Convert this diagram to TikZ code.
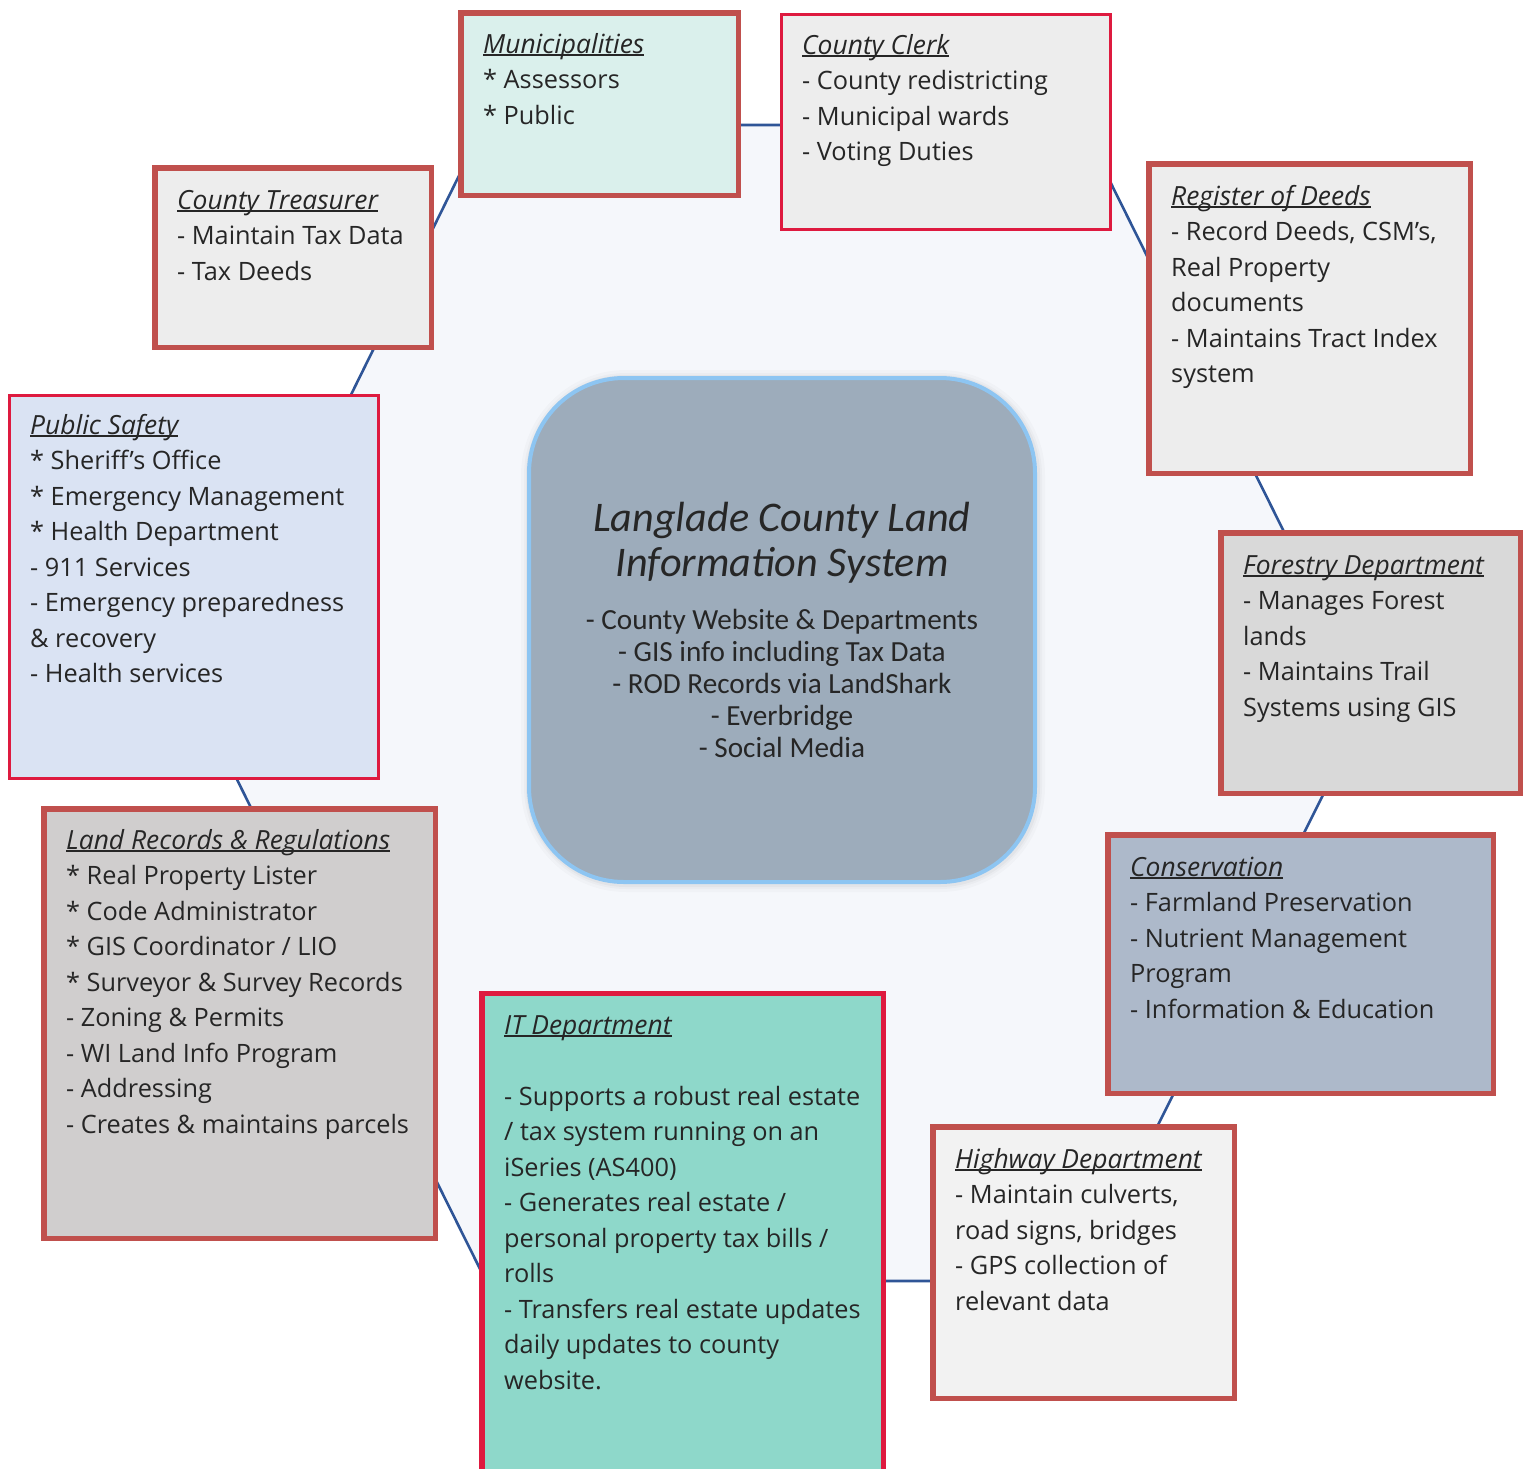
\documentclass[tikz,border=0pt]{standalone}
\usepackage{fontspec}
\setmainfont{Open Sans}
\newfontfamily\corefont{Carlito}

\definecolor{ink}{HTML}{262626}
\definecolor{rimred}{HTML}{C0504D}
\definecolor{rimcrimson}{HTML}{DE1A3F}
\definecolor{linkblue}{HTML}{2F5597}
\definecolor{hexfill}{HTML}{F5F7FB}
\definecolor{corefill}{HTML}{9DACBB}
\definecolor{coreblue}{HTML}{8DC5F2}
\definecolor{munfill}{HTML}{DAF0EC}
\definecolor{greyfill}{HTML}{EDEDED}
\definecolor{safefill}{HTML}{DAE3F3}
\definecolor{forestfill}{HTML}{D9D9D9}
\definecolor{landfill}{HTML}{D0CECE}
\definecolor{consfill}{HTML}{ADB9CA}
\definecolor{itfill}{HTML}{8ED8CA}
\definecolor{hwyfill}{HTML}{F2F2F2}

% underlined italic heading with the rule crossing the descenders
\newcommand\hdr[1]{\setbox0\hbox{\fontsize{26.4}{35.5}\selectfont\itshape #1}\rlap{\rule[-3pt]{\wd0}{1.8pt}}\box0}
% fixed height for the first line of every text block
\newcommand\firstln{\rule{0pt}{24pt}}

\tikzset{
  unitbox/.style={rectangle, inner sep=0pt, outer sep=0pt},
  redrim/.style={draw=rimred, line width=5.5pt},
  crimsonrim/.style={draw=rimcrimson, line width=3pt},
  txt/.style={anchor=north west, inner sep=0pt, align=left, text=ink,
              font=\fontsize{25.3}{35.5}\selectfont},
  hexlink/.style={draw=linkblue, line width=2.6pt, line join=miter},
  halo/.style={unitbox, draw=black, rounded corners=97pt,
               minimum width=508pt, minimum height=506pt},
}

\begin{document}
\begin{tikzpicture}[x=1pt, y=-1pt]
\useasboundingbox (0,0) rectangle (1531,1468);
\clip (0,0) rectangle (1531,1468);
\fill[white] (0,0) rectangle (1531,1468);

% ring of departments: hexagon corners
\coordinate (vL)  at (199,703);
\coordinate (vTL) at (484,125);
\coordinate (vTR) at (1082,125);
\coordinate (vR)  at (1369,703);
\coordinate (vBR) at (1080,1281);
\coordinate (vBL) at (486,1281);

\fill[hexfill] (vL) -- (vTL) -- (vTR) -- (vR) -- (vBR) -- (vBL) -- cycle;
\draw[hexlink] (vL) -- (vTL) -- (vTR) -- (vR) -- (vBR) -- (vBL) -- cycle;

% central system, with a soft halo
\node[halo, draw opacity=0.018, line width=16pt] (core-halo1) at (783,631) {};
\node[halo, draw opacity=0.025, line width=10pt] (core-halo2) at (783,631) {};
\node[halo, draw opacity=0.03, line width=6pt] (core-halo3) at (783,631) {};
\node[unitbox, draw=coreblue, line width=4pt, fill=corefill, rounded corners=95pt,
      minimum width=506pt, minimum height=504pt] (core) at (782,630) {};
\node[anchor=north, inner sep=0pt, align=center, text=ink,
      font=\corefont\itshape\fontsize{42.2}{45}\selectfont] (core-title) at (782,501)
  {\rule{0pt}{30pt}Langlade County Land\\Information System};
\node[anchor=north, inner sep=0pt, align=center, text=ink,
      font=\corefont\fontsize{29.2}{32}\selectfont] (core-body) at (782,607)
  {\rule{0pt}{22pt}- County Website \& Departments\\- GIS info including Tax Data\\- ROD Records via LandShark\\- Everbridge\\- Social Media};

% department boxes
\node[unitbox, redrim, fill=munfill, minimum width=277.5pt, minimum height=182.5pt] (mun) at (599.5,104) {};
\node[txt] (mun-t) at (483,29) {\firstln\hdr{Municipalities}\\{}* Assessors\\{}* Public};

\node[unitbox, crimsonrim, fill=greyfill, minimum width=329.5pt, minimum height=215pt] (clerk) at (945.75,121.5) {};
\node[txt] (clerk-t) at (802,30) {\firstln\hdr{County Clerk}\\- County redistricting\\- Municipal wards\\- Voting Duties};

\node[unitbox, redrim, fill=greyfill, minimum width=276.5pt, minimum height=179.5pt] (treas) at (293,257.5) {};
\node[txt] (treas-t) at (177,185) {\firstln\hdr{County Treasurer}\\- Maintain Tax Data\\- Tax Deeds};

\node[unitbox, redrim, fill=greyfill, minimum width=321.5pt, minimum height=309.5pt] (deeds) at (1309.5,318.5) {};
\node[txt] (deeds-t) at (1171,181) {\firstln\hdr{Register of Deeds}\\- Record Deeds, CSM’s,\\Real Property\\documents\\- Maintains Tract Index\\system};

\node[unitbox, crimsonrim, fill=safefill, minimum width=369.5pt, minimum height=383pt] (safety) at (193.75,586.5) {};
\node[txt] (safety-t) at (30,410) {\firstln\hdr{Public Safety}\\{}* Sheriff’s Office\\{}* Emergency Management\\{}* Health Department\\- 911 Services\\- Emergency preparedness\\\& recovery\\- Health services};

\node[unitbox, redrim, fill=forestfill, minimum width=299.5pt, minimum height=260.5pt] (forest) at (1370.5,663) {};
\node[txt] (forest-t) at (1243,550) {\firstln\hdr{Forestry Department}\\- Manages Forest\\lands\\- Maintains Trail\\Systems using GIS};

\node[unitbox, redrim, fill=landfill, minimum width=391.5pt, minimum height=429.5pt] (land) at (239.5,1023.5) {};
\node[txt] (land-t) at (66,825) {\firstln\hdr{Land Records \& Regulations}\\{}* Real Property Lister\\{}* Code Administrator\\{}* GIS Coordinator / LIO\\{}* Surveyor \& Survey Records\\- Zoning \& Permits\\- WI Land Info Program\\- Addressing\\- Creates \& maintains parcels};

\node[unitbox, redrim, fill=consfill, minimum width=385.5pt, minimum height=258.5pt] (cons) at (1300.5,964) {};
\node[txt] (cons-t) at (1130,852) {\firstln\hdr{Conservation}\\- Farmland Preservation\\- Nutrient Management\\Program\\- Information \& Education};

\node[unitbox, draw=rimcrimson, line width=5.5pt, fill=itfill, minimum width=401.5pt, minimum height=524pt] (it) at (682.5,1255.5) {};
\node[txt] (it-t) at (504,1010) {\firstln\hdr{IT Department}\\\mbox{}\\- Supports a robust real estate\\/ tax system running on an\\iSeries (AS400)\\- Generates real estate /\\personal property tax bills /\\rolls\\- Transfers real estate updates\\daily updates to county\\website.};

\node[unitbox, redrim, fill=hwyfill, minimum width=301.5pt, minimum height=271.5pt] (hwy) at (1083.5,1262.5) {};
\node[txt] (hwy-t) at (955,1144) {\firstln\hdr{Highway Department}\\- Maintain culverts,\\road signs, bridges\\- GPS collection of\\relevant data};
\end{tikzpicture}
\end{document}
